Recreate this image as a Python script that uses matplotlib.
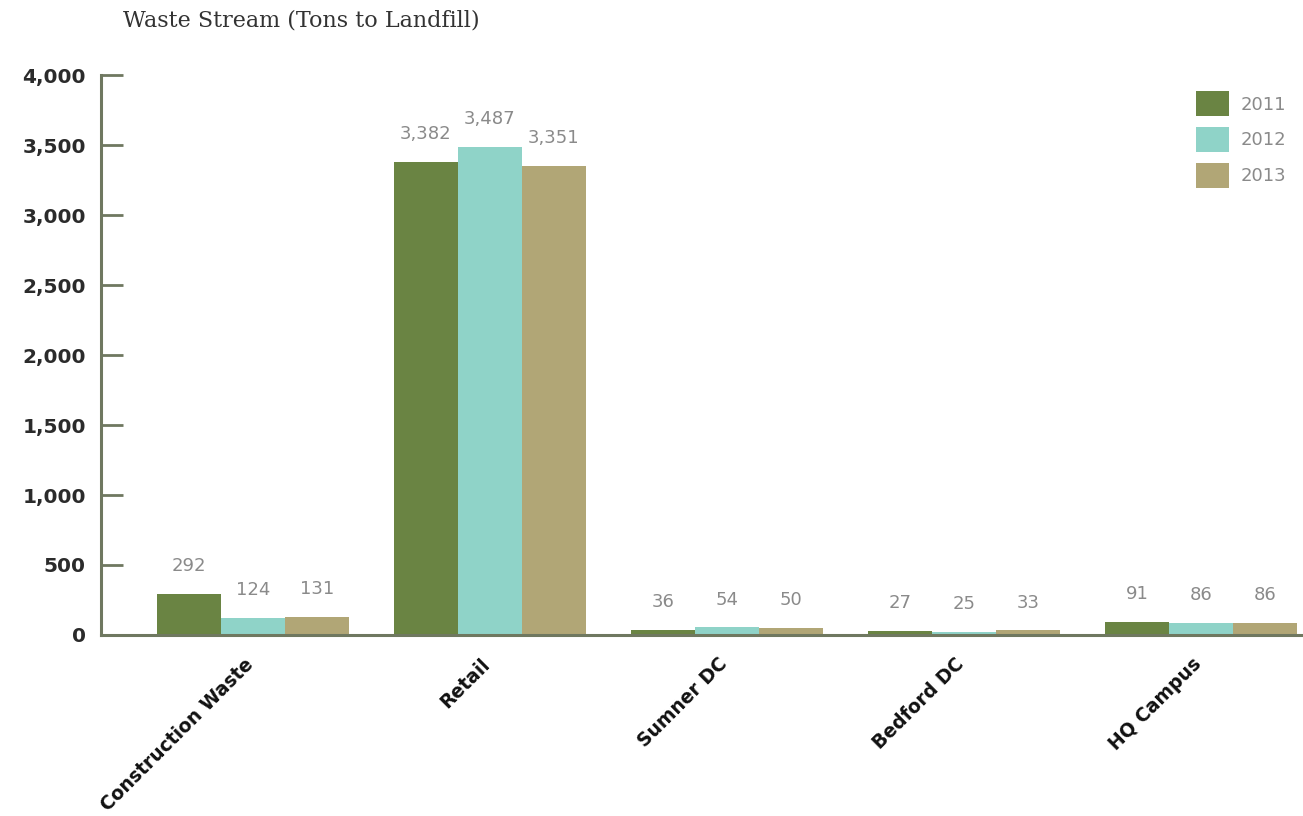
import matplotlib
matplotlib.use("Agg")
import matplotlib.pyplot as plt
import numpy as np
from matplotlib.patches import Patch

categories = ["Construction Waste", "Retail", "Sumner DC", "Bedford DC", "HQ Campus"]
years = ["2011", "2012", "2013"]
values_2011 = [292, 3382, 36, 27, 91]
values_2012 = [124, 3487, 54, 25, 86]
values_2013 = [131, 3351, 50, 33, 86]
yticks = [0, 500, 1000, 1500, 2000, 2500, 3000, 3500, 4000]
title = "Waste Stream (Tons to Landfill)"

colors = ["#6a8443", "#8fd3c8", "#b1a676"]
axis_color = "#6f7860"
label_gray = "#8a8a8a"

fig = plt.figure(figsize=(13.03, 8.16), dpi=100)
ax = fig.add_axes([101/1303, 1 - 635/816, 1 - 101/1303, (635 - 75)/816])

series = [values_2011, values_2012, values_2013]
x = np.arange(len(categories))
w = 0.27
for i, (vals, c) in enumerate(zip(series, colors)):
    xs = x + (i - 1) * w
    ax.bar(xs, vals, width=w, color=c, edgecolor="none", zorder=2)
    for xi, v in zip(xs, vals):
        ax.annotate(f"{v:,}", (xi, v), xytext=(0, 20), textcoords="offset points",
                    ha="center", va="center", fontsize=13, color=label_gray,
                    family="DejaVu Sans")

ax.set_xlim(-0.641, 4.43)
ax.set_ylim(0, 4000)
ax.set_yticks(yticks)
ax.set_yticklabels([f"{t:,}" for t in yticks], fontsize=14.5, color="#2b2b2b",
                   fontweight="bold", family="DejaVu Sans")
ax.tick_params(axis="y", direction="in", length=16, width=2, color=axis_color, pad=11)
ax.set_xticks(x - 0.04)
ax.set_xticklabels(categories, rotation=45, ha="right", va="top",
                   rotation_mode="anchor", fontsize=13.5, fontweight="bold", color="#111111",
                   family="DejaVu Sans")
ax.tick_params(axis="x", length=0, pad=14)

for s in ["top", "right"]:
    ax.spines[s].set_visible(False)
for s in ["left", "bottom"]:
    ax.spines[s].set_color(axis_color)
    ax.spines[s].set_linewidth(2.2)

fig.text(123/1303, 1 - 21/816, title, fontsize=16, family="DejaVu Serif",
         color="#333333", ha="left", va="center")

handles = [Patch(facecolor=c, edgecolor="none") for c in colors]
leg = ax.legend(handles, years, loc="upper right", bbox_to_anchor=(1.0, 1.0),
                frameon=False, fontsize=13, handlelength=1.85, handleheight=1.75,
                labelspacing=0.6, handletextpad=0.65, borderaxespad=0.5)
for t in leg.get_texts():
    t.set_color(label_gray)

fig.savefig("out.png", dpi=100, facecolor="white")
